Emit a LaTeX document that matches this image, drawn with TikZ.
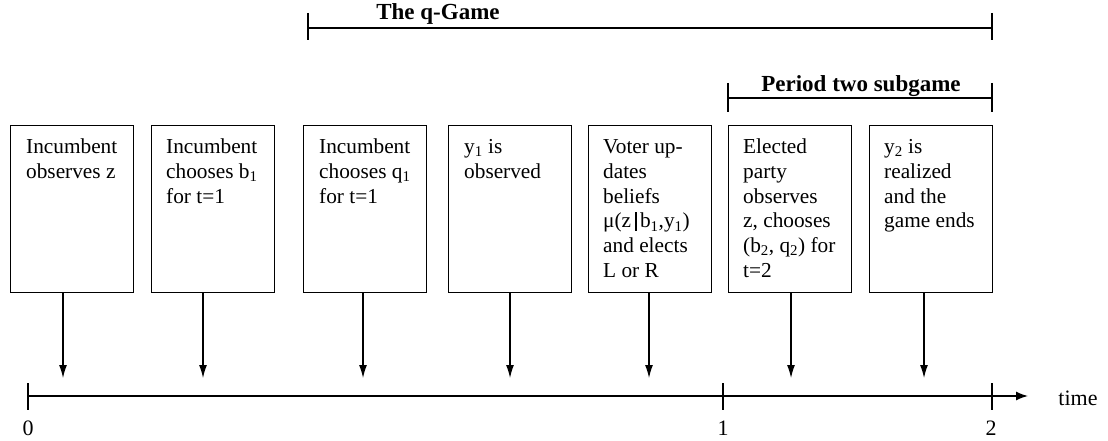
\documentclass[tikz,border=0pt]{standalone}
\usepackage{fontspec}
\setmainfont{Liberation Serif}
\usetikzlibrary{arrows.meta}
\begin{document}
\begin{tikzpicture}[x=1pt,y=-1pt,
  evbox/.style={draw,line width=1.2pt,minimum width=123pt,minimum height=167pt,inner sep=0pt,anchor=north west},
  evtext/.style={anchor=north west,inner sep=0pt,align=left,font=\fontsize{21.3}{24.8}\selectfont},
  arr/.style={line width=1.2pt,-{Latex[length=13pt,width=8pt]}},
  axis/.style={line width=1.5pt,-{Latex[length=12pt,width=9pt]}},
  tick/.style={line width=1.2pt},
  lbl/.style={anchor=base,inner sep=0pt,font=\fontsize{22}{26}\selectfont},
  ttl/.style={anchor=base,inner sep=0pt,font=\fontsize{23}{27}\selectfont\bfseries},
  brk/.style={line width=1.2pt}]
\fill[white] (0,0) rectangle (1108,441);
\useasboundingbox (0,0) rectangle (1108,441);
% boxes
\node[evbox] (b1) at (10,125) {};
\node[evbox] (b2) at (151,125) {};
\node[evbox] (b3) at (303,125) {};
\node[evbox] (b4) at (448,125) {};
\node[evbox] (b5) at (588,125) {};
\node[evbox] (b6) at (728,125) {};
\node[evbox] (b7) at (869,125) {};
% texts
\node[evtext] (t1) at ([shift={(16,11)}]b1.north west) {\strut Incumbent\\observes z};
\node[evtext] (t2) at ([shift={(15,11)}]b2.north west) {\strut Incumbent\\chooses b\textsubscript{1}\\for t=1};
\node[evtext] (t3) at ([shift={(16,11)}]b3.north west) {\strut Incumbent\\chooses q\textsubscript{1}\\for t=1};
\node[evtext] (t4) at ([shift={(16,11)}]b4.north west) {\strut y\textsubscript{1} is\\observed};
\node[evtext] (t5) at ([shift={(15,11)}]b5.north west) {\strut Voter up-\\dates\\beliefs\\μ(z\,\rule[-3pt]{1.8pt}{19pt}\,b\textsubscript{1},y\textsubscript{1})\\and elects\\L or R};
\node[evtext] (t6) at ([shift={(15,11)}]b6.north west) {\strut Elected\\party\\observes\\z, chooses\\(b\textsubscript{2}, q\textsubscript{2}) for\\t=2};
\node[evtext] (t7) at ([shift={(15,11)}]b7.north west) {\strut y\textsubscript{2} is\\realized\\and the\\game ends};
% arrow ends
\coordinate (e1) at (63,378);
\coordinate (e2) at (203,378);
\coordinate (e3) at (363,378);
\coordinate (e4) at (510,378);
\coordinate (e5) at (649,378);
\coordinate (e6) at (791,378);
\coordinate (e7) at (924,378);
\draw[arr] (b1.south -| e1) -- (e1);
\draw[arr] (b2.south -| e2) -- (e2);
\draw[arr] (b3.south -| e3) -- (e3);
\draw[arr] (b4.south -| e4) -- (e4);
\draw[arr] (b5.south -| e5) -- (e5);
\draw[arr] (b6.south -| e6) -- (e6);
\draw[arr] (b7.south -| e7) -- (e7);
% time axis
\coordinate (a0) at (28,396);
\coordinate (a1) at (723,396);
\coordinate (a2) at (992,396);
\coordinate (aend) at (1028,396);
\draw[axis] (a0) -- (aend);
\draw[tick] (28,383) -- (28,410);
\draw[tick] (723,383) -- (723,410);
\draw[tick] (992,383) -- (992,410);
\node[lbl] (l0) at (28,435) {0};
\node[lbl] (l1) at (723,435) {1};
\node[lbl] (l2) at (991,435) {2};
\node[lbl] (ltime) at (1078,405) {time};
% q-game bracket
\draw[brk] (308,13) -- (308,40);
\draw[brk] (308,28) -- (992,28);
\draw[brk] (992,13) -- (992,40);
\node[ttl] (qg) at (438,20) {The q-Game};
% period two bracket
\draw[brk] (728,83) -- (728,112);
\draw[brk] (728,98) -- (992,98);
\draw[brk] (992,83) -- (992,112);
\node[ttl] (p2) at (861,92) {Period two subgame};
\end{tikzpicture}
\end{document}
